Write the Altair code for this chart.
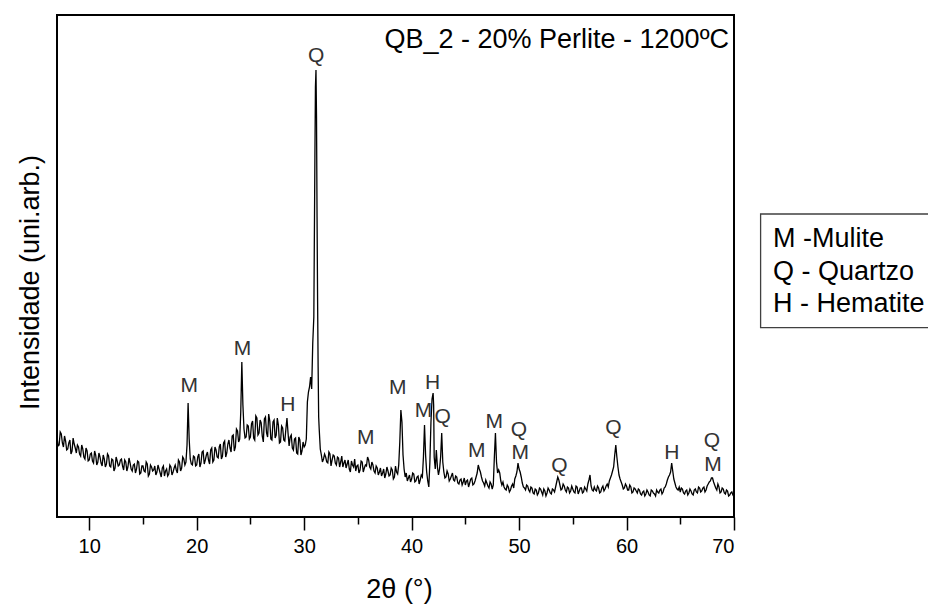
import altair as alt
import numpy as np
import pandas as pd

# ---------------- data ----------------
START, STEP = 7.0, 0.2   # measurement grid of the diffractogram (2-theta, degrees)

# samples at 7.0, 7.2, 7.4 ... 70.0
base_intensity = [
    80, 72, 83, 70, 76,   # 7
    68, 77, 66, 73, 64,   # 8
    70, 61, 68, 58, 66,   # 9
    57, 64, 54, 62, 55,   # 10
    60, 51, 58, 53, 61,   # 11
    50, 57, 49, 56, 52,   # 12
    58, 47, 55, 50, 54,   # 13
    46, 53, 48, 55, 44,   # 14
    51, 45, 53, 43, 50,   # 15
    47, 42, 52, 44, 49,   # 16
    41, 48, 43, 50, 45,   # 17
    52, 44, 55, 49, 58,   # 18
    55, 114, 58, 52, 60,  # 19
    52, 63, 54, 66, 57,   # 20
    65, 53, 69, 57, 67,   # 21
    59, 73, 61, 76, 64,   # 22
    77, 65, 82, 70, 86,   # 23
    78, 155, 88, 80, 91,  # 24
    80, 96, 77, 99, 84,   # 25
    94, 75, 100, 80, 96,  # 26
    77, 97, 82, 92, 75,   # 27
    89, 76, 99, 71, 82,   # 28
    67, 79, 63, 77, 66,   # 29
    70, 78, 125, 140, 174,  # 30
    360, 300, 88, 62, 58,   # 31
    60, 54, 63, 57, 61,   # 32
    52, 59, 55, 50, 57,   # 33
    53, 48, 56, 50, 46,   # 34
    52, 47, 55, 49, 51,   # 35
    57, 48, 52, 44, 49,   # 36
    45, 41, 48, 43, 46,   # 37
    42, 47, 40, 45, 52,   # 38
    107, 62, 40, 36, 42,  # 39
    38, 43, 36, 41, 37,   # 40
    40, 92, 45, 30, 95,   # 41
    124, 48, 50, 48, 84,  # 42
    45, 40, 43, 38, 44,   # 43
    36, 40, 33, 38, 35,   # 44
    32, 37, 34, 39, 33,   # 45
    40, 52, 45, 36, 31,   # 46
    34, 29, 33, 32, 84,   # 47
    44, 44, 32, 30, 27,   # 48
    30, 27, 33, 38, 45,   # 49
    48, 40, 30, 27, 31,   # 50
    25, 29, 23, 27, 24,   # 51
    28, 22, 26, 24, 27,   # 52
    23, 27, 30, 40, 32,   # 53
    28, 31, 25, 29, 26,   # 54
    28, 24, 30, 26, 29,   # 55
    25, 28, 33, 42, 27,   # 56
    30, 26, 29, 25, 31,   # 57
    28, 33, 36, 42, 50,   # 58
    72, 50, 38, 32, 29,   # 59
    31, 27, 30, 25, 28,   # 60
    24, 27, 22, 26, 23,   # 61
    25, 21, 26, 23, 27,   # 62
    24, 28, 25, 30, 37,   # 63
    42, 54, 38, 30, 27,   # 64
    25, 28, 23, 27, 24,   # 65
    26, 22, 28, 24, 29,   # 66
    26, 30, 27, 33, 36,   # 67
    39, 32, 27, 30, 25,   # 68
    28, 23, 26, 22, 25,   # 69
    20,                   # 70
]

# samples at 7.1, 7.3, 7.5 ... 69.9
half_intensity = [
    71, 85, 74, 81, 67,   # 7
    74, 63, 79, 69, 72,   # 8
    63, 72, 60, 69, 56,   # 9
    63, 56, 66, 52, 64,   # 10
    54, 62, 50, 63, 51,   # 11
    58, 46, 60, 51, 57,   # 12
    51, 57, 46, 59, 48,   # 13
    52, 44, 56, 43, 51,   # 14
    46, 55, 41, 52, 46,   # 15
    51, 45, 48, 40, 51,   # 16
    46, 41, 52, 42, 49,   # 17
    47, 57, 46, 60, 52,   # 18
    72, 78, 53, 61, 51,   # 19
    60, 50, 65, 53, 62,   # 20
    57, 67, 55, 70, 60,   # 21
    70, 58, 74, 60, 73,   # 22
    69, 81, 66, 88, 75,   # 23
    105, 112, 79, 92, 78,  # 24
    93, 79, 101, 82, 97,  # 25
    81, 98, 84, 103, 78,  # 26
    95, 79, 99, 74, 91,   # 27
    77, 88, 84, 80, 69,   # 28
    78, 64, 80, 62, 75,   # 29
    72, 115, 130, 128, 200,  # 30
    447, 150, 68, 55, 63,    # 31
    55, 65, 51, 62, 54,   # 32
    60, 50, 61, 54, 49,   # 33
    57, 45, 52, 58, 51,   # 34
    44, 56, 45, 52, 60,   # 35
    50, 55, 46, 51, 42,   # 36
    49, 44, 39, 50, 41,   # 37
    49, 38, 51, 43, 75,   # 38
    95, 48, 44, 39, 35,   # 39
    44, 35, 40, 33, 42,   # 40
    60, 62, 36, 55, 118,  # 41
    60, 67, 42, 60, 55,   # 42
    39, 46, 36, 41, 37,   # 43
    41, 34, 37, 32, 39,   # 44
    36, 30, 38, 32, 36,   # 45
    44, 48, 40, 34, 37,   # 46
    31, 35, 28, 60, 55,   # 47
    47, 36, 35, 28, 32,   # 48
    25, 31, 29, 41, 54,   # 49
    45, 34, 29, 32, 27,   # 50
    30, 24, 28, 22, 29,   # 51
    25, 28, 21, 29, 24,   # 52
    28, 25, 35, 37, 27,   # 53
    33, 27, 30, 24, 31,   # 54
    25, 31, 23, 29, 24,   # 55
    30, 26, 37, 31, 26,   # 56
    27, 31, 24, 29, 26,   # 57
    31, 30, 39, 46, 62,   # 58
    60, 42, 35, 28, 33,   # 59
    27, 32, 24, 29, 26,   # 60
    28, 23, 25, 21, 27,   # 61
    22, 27, 24, 21, 25,   # 62
    27, 23, 29, 33, 40,   # 63
    45, 46, 34, 28, 30,   # 64
    29, 24, 26, 22, 28,   # 65
    23, 27, 25, 30, 25,   # 66
    29, 25, 31, 35, 39,   # 67
    35, 29, 33, 24, 29,   # 68
    24, 27, 21, 24, 22,   # 69
]

# extra samples on the flanks of the sharpest reflections
extra_theta = [31.05, 31.15, 31.25, 31.35, 42.05]
extra_intensity = [430, 400, 217, 100, 112]

# phase labels
label_text = ["M", "M", "H", "Q", "M", "M", "M", "H", "Q", "M", "M", "Q", "M",
              "Q", "Q", "H", "Q", "M"]
label_theta = [19.30, 24.26, 28.48, 31.11, 35.73, 38.71, 41.10, 41.94, 42.90,
               46.07, 47.68, 49.98, 50.10, 53.76, 58.79, 64.22, 67.95, 68.04]
label_intensity = [131, 168, 112, 461, 79, 129, 106, 134, 100,
                   66, 95, 87, 64, 51, 89, 64, 76, 52]

legend_lines = ["M -Mulite", "Q - Quartzo", "H - Hematite"]
title_text = "QB_2 - 20% Perlite - 1200ºC"
x_ticks = [10, 15, 20, 25, 30, 35, 40, 45, 50, 55, 60, 65, 70]

# ---------------- build tables ----------------
grid_theta = np.round(START + STEP * np.arange(len(base_intensity)), 2)
half_theta = np.round(START + STEP / 2 + STEP * np.arange(len(half_intensity)), 2)
df = pd.concat([
    pd.DataFrame({"theta": grid_theta, "intensity": base_intensity}),
    pd.DataFrame({"theta": half_theta, "intensity": half_intensity}),
    pd.DataFrame({"theta": extra_theta, "intensity": extra_intensity}),
]).sort_values("theta").reset_index(drop=True)

lab_df = pd.DataFrame({"theta": label_theta, "intensity": label_intensity, "txt": label_text})
one = pd.DataFrame({"k": [0]})
leg_df = pd.DataFrame({"txt": ["\n".join(legend_lines)]})

FONT = "Liberation Sans"
W, H = 677, 502

x_scale = alt.Scale(domain=[7, 70], nice=False, zero=False)
y_scale = alt.Scale(domain=[0, 502], nice=False, zero=False)

line = alt.Chart(df).mark_line(color="black", strokeWidth=1.3, clip=True).encode(
    x=alt.X("theta:Q", scale=x_scale,
            axis=alt.Axis(values=x_ticks,
                          labelExpr="datum.value % 10 === 0 ? datum.label : ''",
                          tickSize={"condition": {"test": "datum.value % 10 === 0", "value": 13}, "value": 7},
                          tickColor="black", tickWidth=1.5, domain=False, grid=False,
                          labelFontSize=20, labelFont=FONT, labelColor="black",
                          labelPadding=6, labelOverlap=False,
                          title="2θ (°)", titleFont=FONT, titleFontSize=27,
                          titleFontWeight="normal", titleColor="black",
                          titleX=342, titleY=72, titleAlign="center",
                          titleBaseline="middle", titleAnchor="start")),
    y=alt.Y("intensity:Q", scale=y_scale,
            axis=alt.Axis(labels=False, ticks=False, domain=False, grid=False,
                          title="Intensidade (uni.arb.)", titleFont=FONT,
                          titleFontSize=27, titleFontWeight="normal", titleColor="black",
                          titleX=-27, titleY=267, titleAngle=-90, titleAlign="center",
                          titleBaseline="middle", titleAnchor="start")),
    order="theta:Q",
)

labels = alt.Chart(lab_df).mark_text(font=FONT, fontSize=21, color="#333333",
                                     align="center", baseline="middle").encode(
    x="theta:Q", y="intensity:Q", text="txt:N")

title = alt.Chart(one).mark_text(font=FONT, fontSize=27, color="black",
                                 align="right", baseline="middle", text=title_text).encode(
    x=alt.value(672), y=alt.value(25))

box = alt.Chart(one).mark_rect(fillOpacity=0, stroke="#404040", strokeWidth=1.3).encode(
    x=alt.value(703.6), x2=alt.value(900), y=alt.value(199), y2=alt.value(312.7))

legend = alt.Chart(leg_df).mark_text(font=FONT, fontSize=27, color="black", align="left",
                                     baseline="middle", lineBreak="\n", lineHeight=32.5).encode(
    x=alt.value(716), y=alt.value(224), text="txt:N")

chart = alt.layer(line, labels, title, box, legend).properties(
    width=W, height=H,
    autosize=alt.AutoSizeParams(type="none"),
    padding={"left": 57, "top": 15, "right": 194, "bottom": 87},
).configure(
    background="white",
    view=alt.ViewConfig(stroke="black", strokeWidth=2),
)

chart.save("out.html", embed_options={"renderer": "svg", "actions": False})
